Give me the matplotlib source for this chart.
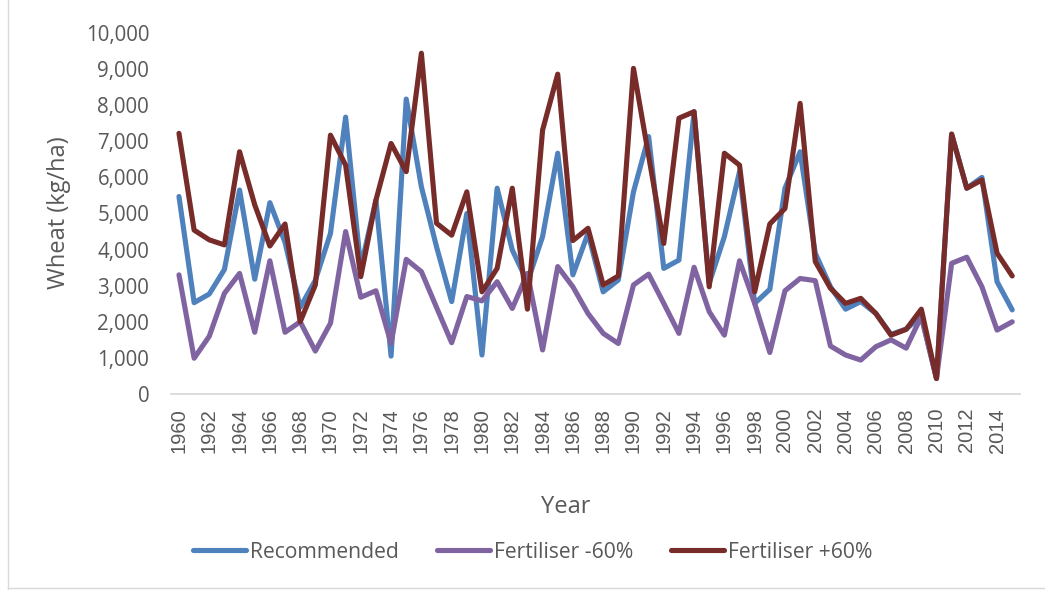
import matplotlib
matplotlib.use("Agg")
import matplotlib.pyplot as plt
from matplotlib.lines import Line2D
from matplotlib.ticker import FuncFormatter

# ---- data (kg/ha) ----
years = list(range(1960, 2016))

recommended = [
    5470, 2530, 2770, 3450, 5650, 3180, 5300, 4200, 2400, 3150,
    4450, 7670, 3500, 5370, 1050, 8170, 5740, 4080, 2560, 5000,
    1080, 5700, 3990, 3100, 4360, 6670, 3300, 4450, 2830, 3160,
    5600, 7130, 3480, 3710, 7820, 3070, 4360, 6160, 2510, 2900,
    5700, 6710, 3900, 2970, 2350, 2560, 2230, 1650, 1800, 2150,
    430, 7200, 5700, 6000, 3110, 2330,
]
fert_minus60 = [
    3300, 990, 1600, 2790, 3340, 1710, 3690, 1710, 2000, 1190,
    1960, 4500, 2680, 2860, 1400, 3730, 3390, 2400, 1420, 2700,
    2580, 3110, 2370, 3340, 1220, 3530, 2970, 2230, 1680, 1400,
    3020, 3320, 2510, 1680, 3510, 2280, 1630, 3690, 2510, 1150,
    2860, 3200, 3140, 1330, 1080, 940, 1310, 1500, 1270, 2150,
    430, 3620, 3790, 2970, 1770, 2000,
]
fert_plus60 = [
    7220, 4540, 4270, 4130, 6710, 5240, 4100, 4710, 2000, 3020,
    7170, 6340, 3250, 5370, 6940, 6160, 9440, 4730, 4400, 5600,
    2830, 3480, 5700, 2350, 7310, 8860, 4250, 4590, 3020, 3270,
    9020, 6600, 4170, 7640, 7820, 2970, 6670, 6340, 2830, 4710,
    5140, 8050, 3670, 2930, 2510, 2650, 2230, 1630, 1790, 2350,
    430, 7200, 5700, 5930, 3900, 3270,
]

series_names = ["Recommended", "Fertiliser -60%", "Fertiliser +60%"]
series_colors = ["#4F81BD", "#8064A2", "#772C2A"]
year_ticks = list(range(1960, 2015, 2))
y_ticks = list(range(0, 10001, 1000))

TEXT = "#595959"
W, H = 1045, 590

fig = plt.figure(figsize=(W / 100, H / 100), dpi=100)
ax = fig.add_axes([171.4 / W, (H - 394) / H, (1019.8 - 171.4) / W, (394 - 33) / H])

lw = 3.7
for vals, name, col in zip([recommended, fert_minus60, fert_plus60], series_names, series_colors):
    ax.plot(years, vals, color=col, lw=lw, solid_joinstyle="round",
            solid_capstyle="round", label=name)

ax.set_xlim(1959.5, 2015.5)
ax.set_ylim(0, 10000)
ax.set_yticks(y_ticks)
ax.yaxis.set_major_formatter(FuncFormatter(lambda v, p: f"{int(v):,}"))
ax.set_xticks(year_ticks)
ax.set_xticklabels([str(y) for y in year_ticks], rotation=90,
                   family="Liberation Sans", fontsize=14.5, color=TEXT)
for lab in ax.get_yticklabels():
    lab.set_family("Open Sans")
    lab.set_fontsize(14.8)
    lab.set_color(TEXT)

ax.tick_params(axis="y", length=0, pad=16)
ax.tick_params(axis="x", length=0, pad=10)
for s in ["top", "right", "left"]:
    ax.spines[s].set_visible(False)
ax.spines["bottom"].set_color("#D9D9D9")
ax.spines["bottom"].set_linewidth(1.3)

fig.text(59 / W, (H - 213) / H, "Wheat (kg/ha)", rotation=90, ha="center", va="center",
         family="Open Sans", fontsize=17, color=TEXT)
fig.text(566 / W, (H - 507) / H, "Year", ha="center", va="center",
         family="Open Sans", fontsize=17, color=TEXT)

handles = [Line2D([0], [0], color=c, lw=lw, solid_capstyle="round") for c in series_colors]
fig.legend(handles, series_names, loc="center", bbox_to_anchor=(533 / W, (H - 552) / H),
           ncol=3, frameon=False, handlelength=2.5, handletextpad=0.2, columnspacing=1.8,
           prop={"family": "Open Sans", "size": 15.2}, labelcolor=TEXT)

# chart frame (left and bottom edges visible in the reference)
fig.add_artist(Line2D([8 / W, 8 / W], [0, 1], transform=fig.transFigure, color="#D9D9D9", lw=1))
fig.add_artist(Line2D([8 / W, 1], [2 / H, 2 / H], transform=fig.transFigure, color="#D9D9D9", lw=1))

fig.savefig("out.png", dpi=100)
